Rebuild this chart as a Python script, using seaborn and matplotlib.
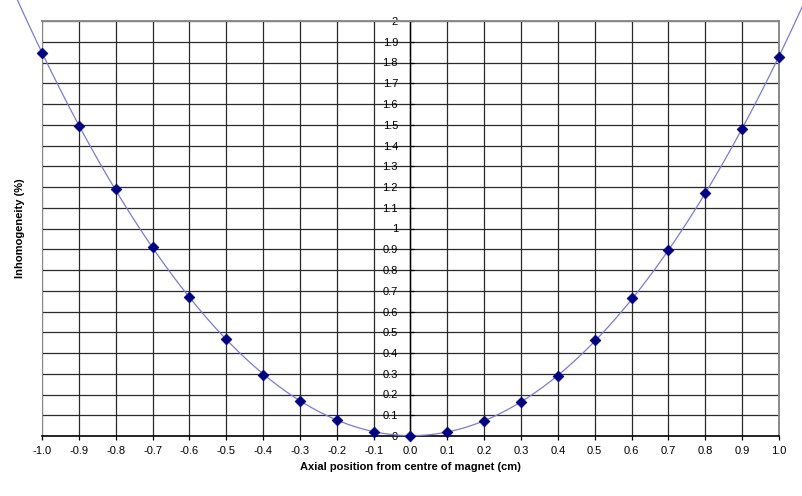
import numpy as np
import pandas as pd
import matplotlib
matplotlib.use("Agg")
import matplotlib.pyplot as plt
import seaborn as sns

# ---- data ----
positions = [-1.0, -0.9, -0.8, -0.7, -0.6, -0.5, -0.4, -0.3, -0.2, -0.1, 0.0,
             0.1, 0.2, 0.3, 0.4, 0.5, 0.6, 0.7, 0.8, 0.9, 1.0]
inhomogeneity = [1.846, 1.494, 1.190, 0.911, 0.670, 0.467, 0.294, 0.169, 0.077, 0.019, 0.0,
                 0.019, 0.072, 0.164, 0.289, 0.463, 0.665, 0.896, 1.171, 1.480, 1.827]
x_ticks = [-1.0, -0.9, -0.8, -0.7, -0.6, -0.5, -0.4, -0.3, -0.2, -0.1, 0.0,
           0.1, 0.2, 0.3, 0.4, 0.5, 0.6, 0.7, 0.8, 0.9, 1.0]
y_ticks = [0, 0.1, 0.2, 0.3, 0.4, 0.5, 0.6, 0.7, 0.8, 0.9, 1, 1.1, 1.2, 1.3,
           1.4, 1.5, 1.6, 1.7, 1.8, 1.9, 2]
x_tick_labels = [f"{v:.1f}" for v in x_ticks]
y_tick_labels = [f"{v:g}" for v in y_ticks]
x_label = "Axial position from centre of magnet (cm)"
y_label = "Inhomogeneity (%)"

df = pd.DataFrame({"x": positions, "y": inhomogeneity})

# polynomial trendline (like the spreadsheet's), extended slightly beyond the data
coef = np.polyfit(positions, inhomogeneity, 2)
xt = np.linspace(-1.1, 1.1, 300)
trend = pd.DataFrame({"x": xt, "y": np.polyval(coef, xt)})

sns.set_theme(style="white")
plt.rcParams["font.family"] = ["Liberation Sans", "DejaVu Sans"]

fig = plt.figure(figsize=(8.03, 4.96), dpi=100)
ax = fig.add_axes([42 / 803, 1 - 436 / 496, 737 / 803, 415 / 496])

sns.lineplot(data=trend, x="x", y="y", ax=ax, color="#7b7bd0", linewidth=0.9,
             clip_on=False, zorder=3)
sns.scatterplot(data=df, x="x", y="y", ax=ax, marker="D", s=30, color="#000080",
                edgecolor="#000080", linewidth=0.5, clip_on=False, zorder=4)

ax.set_xlim(x_ticks[0], x_ticks[-1])
ax.set_ylim(y_ticks[0], y_ticks[-1])
ax.set_xticks(x_ticks)
ax.set_xticklabels(x_tick_labels)
ax.set_yticks(y_ticks)
ax.set_yticklabels(y_tick_labels)

ax.grid(True, color="#2a2a2a", linewidth=0.9)
ax.set_axisbelow(True)

ax.spines["left"].set_position(("data", 0))
ax.spines["left"].set_color("black")
ax.spines["left"].set_linewidth(1.0)
ax.spines["bottom"].set_color("black")
ax.spines["bottom"].set_linewidth(1.2)
for s in ["top", "right"]:
    ax.spines[s].set_color("#8a8a8a")
    ax.spines[s].set_linewidth(1.4)
ax.axvline(ax.get_xlim()[0], color="#8a8a8a", linewidth=1.4, zorder=2)

ax.tick_params(axis="x", direction="out", length=3, width=0.9, color="black",
               pad=4, labelsize=8, labelcolor="black", bottom=True)
ax.tick_params(axis="y", direction="in", length=3, width=0.9, color="black",
               pad=9, labelsize=8, labelcolor="black", left=True)

ax.set_xlabel(x_label, fontsize=8, fontweight="bold", color="black")
ax.set_ylabel(y_label, fontsize=8, fontweight="bold", color="black")
ax.xaxis.set_label_coords(0.5, -0.062)
ax.xaxis.label.set_va("top")
ax.yaxis.set_label_coords(-0.030, 0.5)
ax.yaxis.label.set_va("center")

fig.savefig("out.png", dpi=100)
